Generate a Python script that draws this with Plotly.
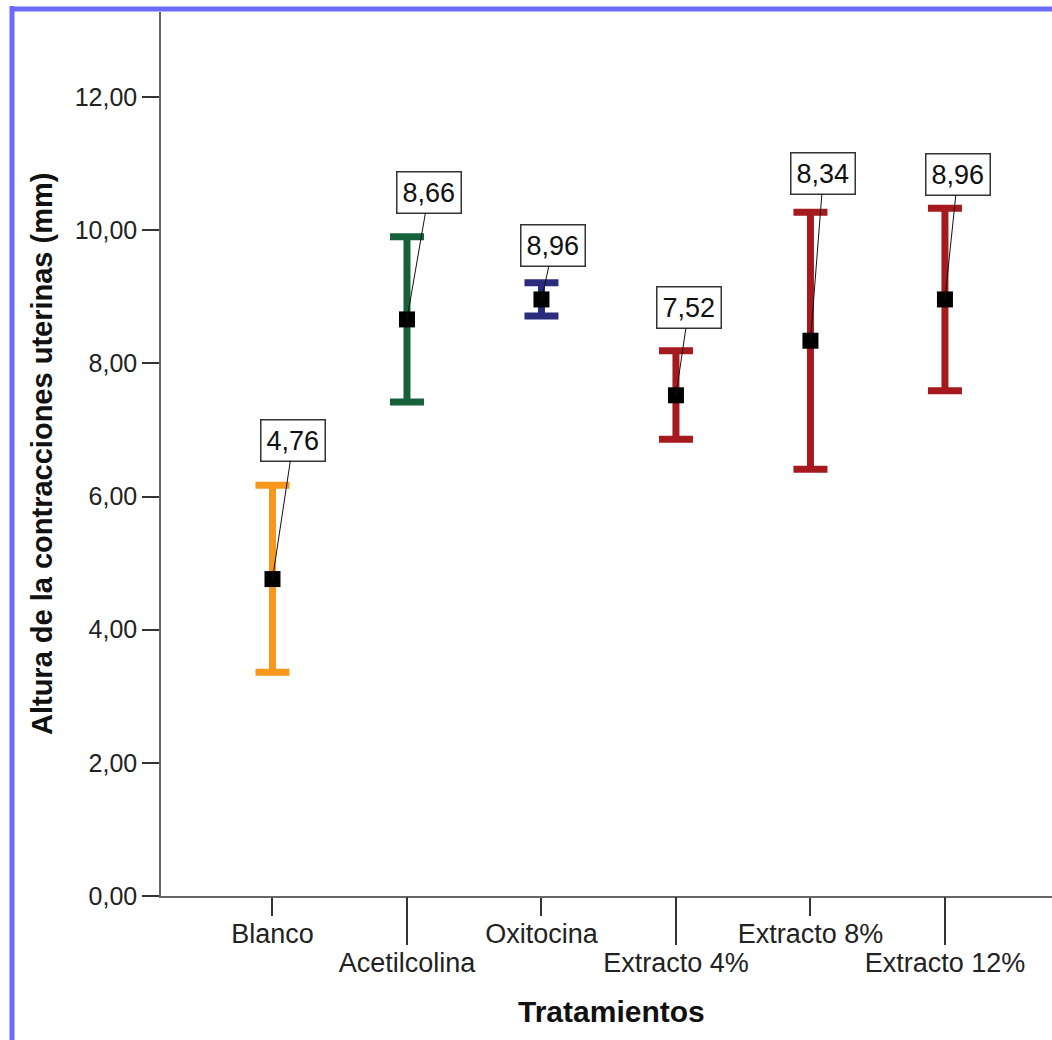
import plotly.graph_objects as go

categories = ["Blanco", "Acetilcolina", "Oxitocina", "Extracto 4%", "Extracto 8%", "Extracto 12%"]
means = [4.76, 8.66, 8.96, 7.52, 8.34, 8.96]
upper = [6.17, 9.90, 9.21, 8.19, 10.27, 10.33]
lower = [3.36, 7.42, 8.71, 6.86, 6.41, 7.59]
colors = ["#F7981D", "#17613A", "#2B2C7C", "#A5191F", "#A5191F", "#A5191F"]
label_dx = [21, 22, 12, 13, 13, 13]
label_dy = [-139, -127, -54, -88, -167, -125]
y_ticks = [0, 2, 4, 6, 8, 10, 12]

W, H = 1052, 1040
L, R, T, B = 161, 0, 12, 144
pw = W - L - R
ph = H - T - B

x_range = [-0.829, 5.796]
y_range = [0, 13.277]

FONT = "Liberation Sans, Arial, sans-serif"

fig = go.Figure()
xs = list(range(len(categories)))
for i, cat in enumerate(categories):
    fig.add_trace(go.Scatter(
        x=[xs[i]], y=[means[i]], mode="markers",
        marker=dict(symbol="square", size=16, color="black"),
        error_y=dict(type="data", symmetric=False,
                     array=[upper[i] - means[i]], arrayminus=[means[i] - lower[i]],
                     color=colors[i], thickness=7, width=17),
        name=cat, showlegend=False, hoverinfo="skip",
    ))

annotations = []
for i, cat in enumerate(categories):
    annotations.append(dict(
        x=xs[i], y=means[i], xref="x", yref="y",
        text=f"{means[i]:.2f}".replace(".", ","),
        showarrow=True, arrowhead=0, arrowwidth=1, arrowcolor="#111",
        ax=label_dx[i], ay=label_dy[i],
        bgcolor="white", bordercolor="#333", borderwidth=1.5, borderpad=5,
        font=dict(family=FONT, size=27, color="#111"),
    ))

annotations.append(dict(
    x=(611 - L) / pw, y=(896 - 1011) / ph, xref="paper", yref="paper",
    text="<b>Tratamientos</b>", showarrow=False, xanchor="center", yanchor="middle",
    font=dict(family=FONT, size=30, color="#111"),
))
annotations.append(dict(
    x=(42 - L) / pw, y=0.5, xref="paper", yref="paper",
    text="<b>Altura de la contracciones uterinas (mm)</b>", showarrow=False,
    textangle=-90, xanchor="center", yanchor="middle",
    font=dict(family=FONT, size=29, color="#111"),
))

blue = "#6B6BFF"
shapes = [
    dict(type="line", xref="paper", yref="paper",
         x0=(12 - L) / pw, x1=(12 - L) / pw, y0=(896 - 6) / ph, y1=-1,
         line=dict(color=blue, width=5)),
    dict(type="line", xref="paper", yref="paper",
         x0=(10 - L) / pw, x1=1.2, y0=(896 - 9) / ph, y1=(896 - 9) / ph,
         line=dict(color=blue, width=5)),
]

xtickfont = dict(family=FONT, size=27, color="#222")
ytickfont = dict(family=FONT, size=25, color="#222")

fig.update_layout(
    width=W, height=H,
    margin=dict(l=L, r=R, t=T, b=B, pad=0),
    paper_bgcolor="white", plot_bgcolor="white",
    separators=",.",
    showlegend=False,
    annotations=annotations,
    shapes=shapes,
    xaxis=dict(range=x_range, showgrid=False, zeroline=False,
               showline=True, linecolor="#666", linewidth=1.5,
               tickmode="array", tickvals=xs[0::2], ticktext=categories[0::2],
               ticks="outside", ticklen=18, tickwidth=1.5, tickcolor="#333",
               ticklabelstandoff=-5, tickfont=xtickfont),
    xaxis2=dict(range=x_range, overlaying="x", anchor="y", side="bottom",
                showgrid=False, zeroline=False, showline=False,
                tickmode="array", tickvals=xs[1::2], ticktext=categories[1::2],
                ticks="outside", ticklen=48, tickwidth=1.5, tickcolor="#333",
                ticklabelstandoff=-5, tickfont=xtickfont),
    yaxis=dict(range=y_range, showgrid=False, zeroline=False,
               showline=True, linecolor="#666", linewidth=1.5,
               tickmode="array", tickvals=y_ticks, tickformat=".2f",
               ticks="outside", ticklen=17, tickwidth=1.5, tickcolor="#333",
               tickfont=ytickfont),
)
# invisible trace to activate xaxis2
fig.add_trace(go.Scatter(x=[xs[0]], y=[means[0]], xaxis="x2", yaxis="y",
                         mode="markers", marker=dict(opacity=0),
                         showlegend=False, hoverinfo="skip"))

fig.write_html("out.html")
